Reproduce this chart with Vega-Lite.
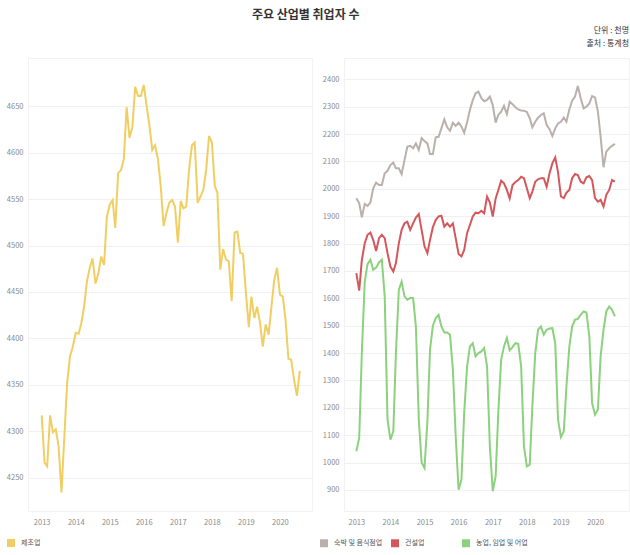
{
"$schema": "https://vega.github.io/schema/vega-lite/v6.json",
"padding": {"left": 5, "top": 8, "right": 0, "bottom": 0},
"background": "white",
"title": {"text": "주요 산업별 취업자 수", "anchor": "middle", "fontSize": 12, "font": "Noto Sans CJK KR", "fontWeight": "bold", "color": "#333333", "offset": 5, "dx": -12},
"data": {"values": [
{"d":"2013/01/01","a":4317,"g":1966,"r":1692,"n":1041},
{"d":"2013/02/01","a":4266,"g":1947,"r":1628,"n":1090},
{"d":"2013/03/01","a":4262,"g":1896,"r":1740,"n":1400},
{"d":"2013/04/01","a":4317,"g":1945,"r":1801,"n":1660},
{"d":"2013/05/01","a":4299,"g":1938,"r":1832,"n":1725},
{"d":"2013/06/01","a":4302,"g":1950,"r":1840,"n":1741},
{"d":"2013/07/01","a":4284,"g":2002,"r":1813,"n":1704},
{"d":"2013/08/01","a":4234,"g":2023,"r":1773,"n":1712},
{"d":"2013/09/01","a":4294,"g":2014,"r":1820,"n":1731},
{"d":"2013/10/01","a":4352,"g":2014,"r":1832,"n":1741},
{"d":"2013/11/01","a":4381,"g":2057,"r":1820,"n":1607},
{"d":"2013/12/01","a":4391,"g":2066,"r":1765,"n":1157},
{"d":"2014/01/01","a":4406,"g":2087,"r":1716,"n":1084},
{"d":"2014/02/01","a":4405,"g":2096,"r":1698,"n":1114},
{"d":"2014/03/01","a":4416,"g":2075,"r":1729,"n":1400},
{"d":"2014/04/01","a":4434,"g":2075,"r":1801,"n":1631},
{"d":"2014/05/01","a":4461,"g":2054,"r":1850,"n":1661},
{"d":"2014/06/01","a":4476,"g":2105,"r":1874,"n":1607},
{"d":"2014/07/01","a":4486,"g":2154,"r":1880,"n":1595},
{"d":"2014/08/01","a":4459,"g":2157,"r":1850,"n":1601},
{"d":"2014/09/01","a":4470,"g":2148,"r":1874,"n":1601},
{"d":"2014/10/01","a":4488,"g":2166,"r":1895,"n":1497},
{"d":"2014/11/01","a":4479,"g":2142,"r":1908,"n":1157},
{"d":"2014/12/01","a":4531,"g":2185,"r":1850,"n":1000},
{"d":"2015/01/01","a":4544,"g":2175,"r":1790,"n":980},
{"d":"2015/02/01","a":4549,"g":2166,"r":1765,"n":1150},
{"d":"2015/03/01","a":4519,"g":2127,"r":1813,"n":1412},
{"d":"2015/04/01","a":4578,"g":2127,"r":1860,"n":1500},
{"d":"2015/05/01","a":4581,"g":2188,"r":1886,"n":1528},
{"d":"2015/06/01","a":4593,"g":2190,"r":1899,"n":1540},
{"d":"2015/07/01","a":4649,"g":2221,"r":1902,"n":1497},
{"d":"2015/08/01","a":4616,"g":2254,"r":1862,"n":1475},
{"d":"2015/09/01","a":4628,"g":2225,"r":1874,"n":1475},
{"d":"2015/10/01","a":4671,"g":2212,"r":1862,"n":1467},
{"d":"2015/11/01","a":4661,"g":2242,"r":1874,"n":1339},
{"d":"2015/12/01","a":4661,"g":2230,"r":1820,"n":1096},
{"d":"2016/01/01","a":4673,"g":2242,"r":1762,"n":901},
{"d":"2016/02/01","a":4650,"g":2227,"r":1753,"n":938},
{"d":"2016/03/01","a":4630,"g":2205,"r":1777,"n":1181},
{"d":"2016/04/01","a":4603,"g":2242,"r":1838,"n":1351},
{"d":"2016/05/01","a":4608,"g":2288,"r":1868,"n":1424},
{"d":"2016/06/01","a":4593,"g":2324,"r":1899,"n":1436},
{"d":"2016/07/01","a":4564,"g":2349,"r":1913,"n":1388},
{"d":"2016/08/01","a":4521,"g":2355,"r":1911,"n":1400},
{"d":"2016/09/01","a":4535,"g":2331,"r":1920,"n":1406},
{"d":"2016/10/01","a":4546,"g":2320,"r":1911,"n":1418},
{"d":"2016/11/01","a":4549,"g":2325,"r":1972,"n":1351},
{"d":"2016/12/01","a":4542,"g":2337,"r":1950,"n":1059},
{"d":"2017/01/01","a":4503,"g":2306,"r":1899,"n":895},
{"d":"2017/02/01","a":4548,"g":2242,"r":1965,"n":950},
{"d":"2017/03/01","a":4540,"g":2270,"r":1995,"n":1181},
{"d":"2017/04/01","a":4542,"g":2282,"r":2030,"n":1376},
{"d":"2017/05/01","a":4582,"g":2303,"r":2020,"n":1424},
{"d":"2017/06/01","a":4608,"g":2273,"r":1996,"n":1455},
{"d":"2017/07/01","a":4611,"g":2318,"r":1965,"n":1410},
{"d":"2017/08/01","a":4546,"g":2309,"r":2014,"n":1422},
{"d":"2017/09/01","a":4553,"g":2298,"r":2025,"n":1436},
{"d":"2017/10/01","a":4560,"g":2290,"r":2032,"n":1434},
{"d":"2017/11/01","a":4582,"g":2286,"r":2044,"n":1351},
{"d":"2017/12/01","a":4618,"g":2285,"r":2039,"n":1059},
{"d":"2018/01/01","a":4611,"g":2281,"r":2002,"n":986},
{"d":"2018/02/01","a":4564,"g":2258,"r":1966,"n":992},
{"d":"2018/03/01","a":4557,"g":2225,"r":1990,"n":1205},
{"d":"2018/04/01","a":4474,"g":2245,"r":2026,"n":1400},
{"d":"2018/05/01","a":4496,"g":2260,"r":2035,"n":1485},
{"d":"2018/06/01","a":4485,"g":2270,"r":2039,"n":1497},
{"d":"2018/07/01","a":4483,"g":2276,"r":2039,"n":1467},
{"d":"2018/08/01","a":4440,"g":2233,"r":2008,"n":1485},
{"d":"2018/09/01","a":4514,"g":2218,"r":2057,"n":1490},
{"d":"2018/10/01","a":4515,"g":2193,"r":2093,"n":1491},
{"d":"2018/11/01","a":4492,"g":2221,"r":2115,"n":1436},
{"d":"2018/12/01","a":4491,"g":2239,"r":2060,"n":1157},
{"d":"2019/01/01","a":4449,"g":2245,"r":1972,"n":1093},
{"d":"2019/02/01","a":4412,"g":2260,"r":1966,"n":1114},
{"d":"2019/03/01","a":4445,"g":2245,"r":1986,"n":1278},
{"d":"2019/04/01","a":4422,"g":2290,"r":1996,"n":1424},
{"d":"2019/05/01","a":4434,"g":2322,"r":2039,"n":1497},
{"d":"2019/06/01","a":4417,"g":2337,"r":2054,"n":1522},
{"d":"2019/07/01","a":4391,"g":2376,"r":2050,"n":1525},
{"d":"2019/08/01","a":4415,"g":2331,"r":2026,"n":1540},
{"d":"2019/09/01","a":4404,"g":2294,"r":2020,"n":1552},
{"d":"2019/10/01","a":4433,"g":2300,"r":2042,"n":1548},
{"d":"2019/11/01","a":4463,"g":2312,"r":2047,"n":1461},
{"d":"2019/12/01","a":4476,"g":2339,"r":2032,"n":1217},
{"d":"2020/01/01","a":4447,"g":2334,"r":1966,"n":1175},
{"d":"2020/02/01","a":4445,"g":2282,"r":1953,"n":1193},
{"d":"2020/03/01","a":4420,"g":2191,"r":1960,"n":1388},
{"d":"2020/04/01","a":4378,"g":2079,"r":1935,"n":1485},
{"d":"2020/05/01","a":4377,"g":2136,"r":1978,"n":1552},
{"d":"2020/06/01","a":4355,"g":2148,"r":1996,"n":1570},
{"d":"2020/07/01","a":4338,"g":2157,"r":2032,"n":1558},
{"d":"2020/08/01","a":4365,"g":2164,"r":2026,"n":1534}
]},
"config": {
  "font": "Noto Sans CJK KR",
  "view": {"stroke": "#f2f2f2"},
  "axis": {"labelFont": "Noto Sans CJK KR", "labelFontSize": 7.5, "labelColor": "#8a8a8a", "ticks": false, "domain": false, "title": null, "gridColor": "#f0f0f0"},
  "legend": {"labelFont": "Noto Sans CJK KR", "labelFontSize": 7, "labelColor": "#555555", "symbolType": "square", "symbolSize": 1, "symbolStrokeWidth": 7, "labelOffset": 6}
},
"spacing": 6,
"resolve": {"scale": {"color": "independent", "y": "independent", "x": "independent"}},
"hconcat": [
  {
    "width": 284, "height": 453,
    "mark": {"type": "line", "strokeWidth": 2},
    "encoding": {
      "x": {"field": "d", "type": "temporal",
            "scale": {"domain": [{"year": 2012, "month": 8, "date": 7}, {"year": 2020, "month": 12, "date": 10}]},
            "axis": {"format": "%Y", "tickCount": {"interval": "year", "step": 1}, "grid": false, "labelPadding": 7}},
      "y": {"field": "a", "type": "quantitative",
            "scale": {"domain": [4214, 4702], "nice": false, "zero": false},
            "axis": {"values": [4250, 4300, 4350, 4400, 4450, 4500, 4550, 4600, 4650], "format": "d", "labelPadding": 5}},
      "color": {"datum": "제조업", "type": "nominal", "scale": {"range": ["#F1CE63"]},
                "legend": {"orient": "none", "legendX": -21, "legendY": 481, "title": null}}
    }
  },
  {
    "width": 285, "height": 453,
    "title": {"text": ["단위 : 천명", "출처 : 통계청"], "anchor": "end", "fontSize": 8, "fontWeight": "normal", "color": "#333333", "lineHeight": 13, "offset": 10},
    "transform": [{"fold": ["g", "r", "n"], "as": ["k", "v"]}],
    "mark": {"type": "line", "strokeWidth": 2},
    "encoding": {
      "x": {"field": "d", "type": "temporal",
            "scale": {"domain": [{"year": 2012, "month": 8, "date": 22}, {"year": 2020, "month": 12, "date": 30}]},
            "axis": {"format": "%Y", "tickCount": {"interval": "year", "step": 1}, "grid": false, "labelPadding": 7}},
      "y": {"field": "v", "type": "quantitative",
            "scale": {"domain": [823, 2478], "nice": false, "zero": false},
            "axis": {"values": [900, 1000, 1100, 1200, 1300, 1400, 1500, 1600, 1700, 1800, 1900, 2000, 2100, 2200, 2300, 2400], "format": "d", "labelPadding": 5}},
      "color": {"field": "k", "type": "nominal",
                "scale": {"domain": ["g", "r", "n"], "range": ["#BAB0AC", "#D4575B", "#8CD17D"]},
                "legend": {"orient": "none", "legendX": -24, "legendY": 481, "title": null, "direction": "horizontal", "columns": 3, "gridAlign": "all", "columnPadding": -6,
                           "labelExpr": "datum.label == 'g' ? '숙박 및 음식점업' : datum.label == 'r' ? '건설업' : '농업, 임업 및 어업'"}}
    }
  }
]
}
